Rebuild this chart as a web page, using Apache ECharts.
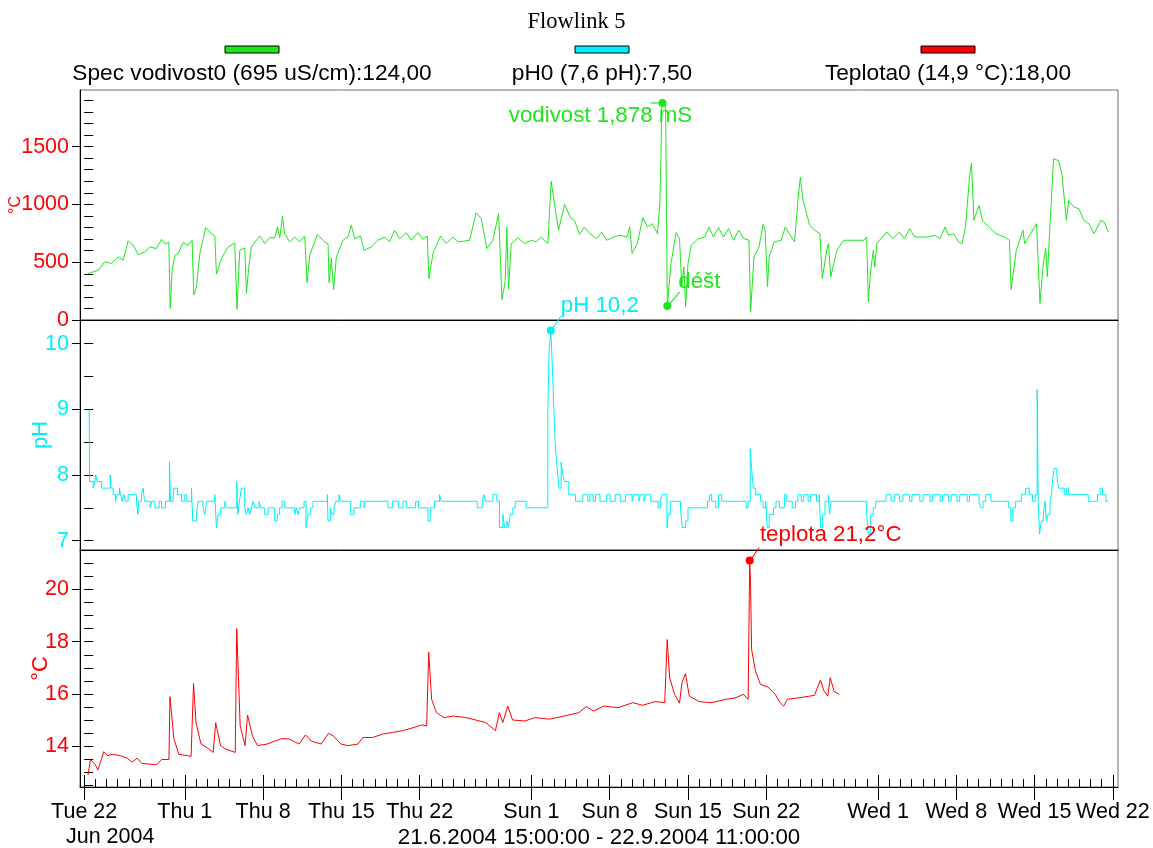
<!DOCTYPE html>
<html>
<head>
<meta charset="utf-8">
<title>Flowlink 5</title>
<script src="https://cdn.jsdelivr.net/npm/echarts@6/dist/echarts.min.js"></script>
<style>
html,body{margin:0;padding:0;background:#fff}
#show{width:1153px;height:848px}
</style>
</head>
<body>
<div id="show"></div>
<script>
// casy jsou ve dnech od 22.6.2004 00:00
var xMin = -0.375, xMax = 92.4583;   // 21.6.2004 15:00 - 22.9.2004 11:00

var condDays = [0.30,1.25,1.85,2.44,3.04,3.49,3.93,4.38,4.83,5.42,5.87,6.46,6.91,7.27,7.57,7.69,7.86,8.10,8.40,8.85,
    9.29,9.65,9.80,10.04,10.34,10.87,11.38,11.68,11.83,12.27,12.87,13.46,13.61,13.67,13.91,14.36,14.51,14.72,14.95,15.70,
    16.15,16.59,17.04,17.28,17.49,17.73,17.93,18.38,18.83,19.27,19.72,19.93,20.17,20.85,21.51,21.81,21.90,22.10,22.31,22.55,
    23.15,23.59,23.89,24.19,24.72,25.02,25.68,26.27,26.87,27.31,27.76,28.21,28.81,29.25,29.85,30.29,30.68,30.83,31.19,31.87,
    32.38,32.98,33.42,34.46,35.06,35.51,36.01,36.55,37.06,37.24,37.36,37.65,37.80,37.95,38.19,38.79,39.38,39.98,40.42,40.87,
    41.47,41.76,42.06,42.42,42.96,43.49,43.85,44.30,44.74,45.22,45.83,46.28,46.73,47.34,47.94,48.55,48.79,49.00,49.46,49.97,
    50.37,50.82,51.27,51.48,51.58,51.66,52.00,52.15,52.48,52.94,53.24,53.45,53.63,53.79,54.00,54.30,54.91,55.51,55.87,56.27,
    56.72,57.18,57.63,58.08,58.54,58.99,59.45,59.60,59.90,60.35,60.72,60.90,61.11,61.26,61.71,62.32,62.71,63.23,63.53,63.83,
    64.05,64.29,64.89,65.35,65.80,66.01,66.41,66.56,66.77,67.31,67.92,68.83,69.74,69.98,70.13,70.34,70.58,70.70,70.89,71.25,
    71.79,72.31,72.91,73.37,73.82,74.28,74.88,75.49,76.09,76.55,77.00,77.30,77.76,78.21,78.51,78.82,79.18,79.36,79.57,80.03,
    80.33,80.93,81.54,82.30,82.75,82.90,83.36,83.96,84.11,85.17,85.48,85.78,85.99,86.14,86.38,86.69,87.14,87.44,87.84,88.05,
    88.50,88.96,89.41,89.86,90.32,90.92,91.22,91.59];
var condVals = [400,431,503,489,546,517,684,647,566,589,632,618,698,655,675,101,420,560,575,670,
    647,690,216,287,575,799,747,727,397,532,632,666,666,92,603,624,230,459,632,727,
    661,713,710,805,710,899,747,675,718,675,727,322,560,741,675,661,322,532,264,546,
    690,718,819,704,727,603,632,690,718,675,776,704,756,690,756,698,727,359,575,727,
    661,718,675,690,928,877,618,690,920,489,178,331,805,267,661,710,661,690,675,718,
    661,1201,1006,776,1000,885,862,741,805,747,704,761,690,718,733,718,805,575,661,885,
    805,833,747,1006,1408,1878,1860,121,489,756,704,287,459,115,489,647,704,718,805,718,
    799,718,790,690,776,704,690,72,546,632,827,776,287,546,675,690,805,718,675,1034,
    1236,1034,819,776,747,359,603,661,374,603,690,690,690,718,158,431,603,459,661,704,
    761,704,761,704,790,718,718,718,733,704,805,733,747,675,661,805,1236,1356,862,991,
    862,805,747,718,690,264,603,776,661,833,144,489,618,374,833,1394,1379,1264,862,1034,
    977,963,862,833,747,862,848,761];

var phDays = [0.447,0.477,0.804,0.953,1.043,1.162,1.549,2.324,2.413,2.592,2.800,2.949,3.158,3.247,3.396,3.545,3.694,3.932,4.677,4.796,
    4.886,5.124,5.273,5.392,5.898,6.047,6.315,6.703,6.911,7.269,7.626,7.715,7.954,8.043,8.341,8.698,8.996,9.175,9.592,9.711,
    10.039,10.188,10.635,10.784,10.962,11.677,11.826,11.975,12.214,12.571,12.720,13.644,13.733,13.882,14.060,14.358,14.507,14.656,14.805,14.954,
    15.103,15.252,15.639,15.788,16.146,16.444,17.040,17.277,17.456,17.694,17.933,18.826,18.975,19.124,19.273,19.661,19.840,20.018,20.227,20.465,
    21.745,21.805,22.014,22.163,22.342,22.491,22.789,22.937,23.831,24.129,24.695,25.022,25.171,27.167,27.554,28.120,28.507,28.805,29.640,29.908,
    30.742,30.950,31.337,31.784,31.933,35.150,35.597,35.746,35.895,36.550,36.908,37.146,37.444,37.593,37.802,37.951,38.100,38.338,38.546,39.530,
    41.466,41.585,41.734,41.883,42.002,42.121,42.240,42.359,42.449,42.657,42.806,42.955,43.342,43.938,44.593,45.040,45.22,45.52,45.73,46.13,
    46.73,47.04,47.49,47.94,48.40,49.00,49.15,49.61,49.76,50.06,50.21,50.67,51.33,51.52,51.67,52.12,52.24,52.42,53.33,53.48,
    53.79,54.00,55.75,55.93,56.12,56.48,56.72,57.02,59.20,59.38,59.57,59.69,59.84,60.05,60.50,60.72,60.96,61.08,61.26,61.65,
    61.87,62.17,62.62,62.83,63.32,63.62,63.83,64.14,64.35,64.74,64.95,65.50,65.74,65.86,66.04,66.26,66.56,66.65,66.80,69.98,
    70.13,70.34,70.58,70.79,71.70,72.16,72.46,72.91,73.22,73.82,74.03,74.73,75.03,75.64,75.85,76.55,76.76,77.30,77.54,78.06,
    78.30,78.97,79.18,80.03,80.18,80.39,80.63,81.09,82.69,82.87,83.05,83.30,83.81,84.20,84.51,84.81,85.05,85.23,85.32,85.44,
    85.60,85.78,85.93,86.05,86.20,86.38,86.50,86.66,86.75,86.99,87.14,87.65,87.84,88.05,89.80,90.62,90.86,91.07,91.38,91.59];
var phVals = [9.0,7.9,7.8,7.9,8.0,7.9,7.8,8.0,7.8,7.7,7.6,7.7,7.8,7.7,7.6,7.7,7.6,7.7,7.6,7.4,
    7.6,7.7,7.8,7.6,7.5,7.6,7.5,7.6,7.5,7.6,8.2,7.6,7.7,7.8,7.7,7.6,7.7,7.6,7.8,7.3,
    7.4,7.6,7.5,7.4,7.6,7.7,7.2,7.4,7.5,7.6,7.5,7.9,7.4,7.6,7.8,7.5,7.4,7.5,7.4,7.5,
    7.6,7.5,7.6,7.5,7.4,7.5,7.3,7.4,7.5,7.6,7.5,7.4,7.5,7.4,7.5,7.6,7.2,7.4,7.5,7.6,
    7.7,7.3,7.5,7.4,7.5,7.6,7.7,7.6,7.4,7.5,7.6,7.5,7.6,7.5,7.6,7.5,7.6,7.5,7.6,7.5,
    7.3,7.5,7.6,7.7,7.6,7.5,7.6,7.7,7.6,7.7,7.6,7.2,7.4,7.2,7.3,7.2,7.4,7.5,7.6,7.5,
    9.0,9.9,10.2,9.6,9.0,8.5,8.2,8.0,7.8,8.2,8.0,7.9,7.7,7.6,7.7,7.6,7.7,7.6,7.7,7.6,
    7.7,7.6,7.7,7.6,7.7,7.6,7.7,7.6,7.7,7.6,7.7,7.6,7.5,7.6,7.7,7.2,7.4,7.6,7.5,7.2,
    7.3,7.5,7.6,7.7,7.6,7.5,7.7,7.6,7.5,7.6,8.4,8.1,7.8,7.7,7.6,7.5,7.6,7.2,7.4,7.5,
    7.6,7.5,7.7,7.6,7.5,7.6,7.7,7.6,7.7,7.6,7.7,7.6,7.7,7.2,7.4,7.6,7.7,7.4,7.6,7.4,
    7.1,7.4,7.5,7.6,7.7,7.6,7.7,7.6,7.7,7.6,7.7,7.6,7.7,7.6,7.7,7.6,7.7,7.6,7.7,7.6,
    7.7,7.6,7.7,7.6,7.5,7.6,7.7,7.6,7.5,7.3,7.5,7.6,7.7,7.8,7.7,7.6,7.7,9.3,7.6,7.1,
    7.3,7.4,7.6,7.3,7.4,7.6,7.7,8.0,8.1,8.0,7.8,7.7,7.8,7.7,7.6,7.7,7.8,7.7,7.6,7.6];

var tempDays = [0.34,0.56,1.00,1.22,1.53,1.75,2.10,2.54,3.20,3.85,4.29,4.73,5.17,6.49,6.93,7.58,7.67,7.80,8.02,8.46,
    9.56,9.78,10.00,10.44,11.10,11.54,11.76,12.20,12.63,13.51,13.64,13.95,14.39,14.61,15.05,15.49,16.37,17.02,17.68,18.34,
    19.22,19.79,20.32,21.19,21.85,22.29,22.95,23.61,24.49,24.92,25.80,26.68,27.56,28.44,29.31,30.19,30.63,30.81,31.07,31.51,
    32.17,33.05,34.14,35.02,35.90,36.78,37.13,37.44,37.88,38.31,39.41,40.29,41.61,42.92,44.24,44.90,45.56,46.43,47.75,49.07,
    49.95,51.04,51.92,52.14,52.36,52.80,53.24,53.46,53.77,54.12,55.00,56.09,57.41,58.29,58.95,59.38,59.52,59.60,59.69,60.04,
    60.48,61.14,61.80,62.24,62.55,62.90,63.99,64.87,65.31,65.84,66.19,66.50,66.72,67.07,67.51];
var tempVals = [12.9,13.5,13.3,13.1,13.5,13.8,13.65,13.7,13.65,13.55,13.4,13.55,13.35,13.3,13.5,13.5,15.9,15.3,14.3,13.7,
    13.62,16.4,14.9,14.1,13.92,13.77,14.9,14.03,13.9,13.77,18.5,14.78,14.03,15.2,14.4,14.03,14.09,14.2,14.3,14.28,
    14.09,14.44,14.2,14.09,14.5,14.4,14.09,14.03,14.09,14.34,14.34,14.47,14.53,14.6,14.7,14.82,14.78,17.6,15.8,15.29,
    15.1,15.16,15.1,15.01,14.91,14.6,15.29,14.91,15.54,15.01,14.97,15.1,15.04,15.16,15.29,15.52,15.35,15.54,15.48,15.67,
    15.57,15.71,15.67,18.08,16.62,15.99,15.65,16.43,16.78,15.92,15.71,15.67,15.8,15.86,15.99,15.8,21.1,20.1,17.7,16.87,
    16.37,16.27,15.99,15.67,15.54,15.8,15.86,15.92,15.95,16.53,16.1,15.92,16.62,16.1,15.99];

// popisky na ose x
var xTickDays = [0, 9, 16, 23, 30, 40, 47, 54, 61, 71, 78, 85, 92];
var xTickLabels = ['Tue 22', 'Thu 1', 'Thu 8', 'Thu 15', 'Thu 22', 'Sun 1', 'Sun 8', 'Sun 15', 'Sun 22', 'Wed 1', 'Wed 8', 'Wed 15', 'Wed 22'];
var condTicks = [0, 500, 1000, 1500];
var phTicks = [7, 8, 9, 10];
var tempTicks = [14, 16, 18, 20];

var legendNames = ['Spec vodivost0 (695 uS/cm):124,00', 'pH0 (7,6 pH):7,50', 'Teplota0 (14,9 °C):18,00'];

// poznamky [den, hodnota]
var condPeak = [51.72, 1878];
var rainPoint = [52.15, 121];
var phPeak = [41.73, 10.2];
var tempPeak = [59.52, 21.1];

var green = '#1ee61e', cyan = '#00eef8', red = '#ff0000';
var font = "'Liberation Sans', Arial, sans-serif";

function pairs(xs, ys) {
    var out = [];
    for (var i = 0; i < xs.length; i++) out.push([xs[i], ys[i]]);
    return out;
}
function range(a, b, step) {
    var out = [];
    for (var v = a; v <= b + 1e-9; v += step) out.push(Math.round(v * 100) / 100);
    return out;
}

var myChart = echarts.init(document.getElementById('show'));

var grids = [
    {left: 80, right: 35, top: 90, height: 230},
    {left: 80, right: 35, top: 320, height: 230},
    {left: 80, right: 35, top: 550, height: 237}
];
grids.forEach(function (g) {
    g.show = true; g.borderColor = '#6e6e6e'; g.borderWidth = 1;
    g.containLabel = false; g.outerBoundsMode = 'none';
});

function plainX(gi) {
    return {
        type: 'value', gridIndex: gi, min: xMin, max: xMax, position: 'bottom',
        axisLine: {show: true, onZero: false, lineStyle: {color: '#000', width: 1}},
        axisTick: {show: false}, axisLabel: {show: false}, splitLine: {show: false}
    };
}
var xBottom = plainX(2);
xBottom.axisTick = {show: true, customValues: xTickDays, length: 13, lineStyle: {color: '#000'}};
xBottom.axisLabel = {
    show: true, customValues: xTickDays, margin: 13, color: '#000', fontSize: 21.5, fontFamily: font,
    formatter: function (v) {
        var i = xTickDays.indexOf(Math.round(v));
        if (i < 0) return '';
        if (i === 0) return '{a|' + xTickLabels[i] + '}\n{b|Jun 2004}';
        return '{a|' + xTickLabels[i] + '}';
    },
    rich: {
        a: {fontSize: 21.5, fontFamily: font, color: '#000', lineHeight: 25, align: 'center'},
        b: {fontSize: 21.5, fontFamily: font, color: '#000', lineHeight: 25, align: 'center', padding: [0, 0, 0, 52]}
    }
};
xBottom.name = '21.6.2004 15:00:00 - 22.9.2004 11:00:00';
xBottom.nameLocation = 'middle';
xBottom.nameGap = 40;
xBottom.nameMoveOverlap = false;
xBottom.nameTextStyle = {color: '#000', fontSize: 22.3, fontFamily: font};

var xMinor = plainX(2);
xMinor.axisLine = {show: false};
xMinor.axisTick = {show: true, inside: true, customValues: range(0, 92, 1), length: 8, lineStyle: {color: '#000'}};
var xMajorIn = plainX(2);
xMajorIn.axisLine = {show: false};
xMajorIn.axisTick = {show: true, inside: true, customValues: xTickDays, length: 12, lineStyle: {color: '#000'}};

function yMain(gi, min, max, ticks, color, name, nameSize, nameGap) {
    return {
        type: 'value', gridIndex: gi, min: min, max: max, position: 'left',
        axisLine: {show: true, onZero: false, lineStyle: {color: '#000', width: 1}},
        axisTick: {show: true, customValues: ticks, length: 8, lineStyle: {color: '#000'}},
        axisLabel: {show: true, customValues: ticks, margin: 11, color: color, fontSize: 21.5, fontFamily: font,
            formatter: function (v) { return String(v); }},
        splitLine: {show: false},
        name: name, nameLocation: 'middle', nameGap: nameGap, nameMoveOverlap: false,
        nameTextStyle: {color: color, fontSize: nameSize, fontFamily: font}
    };
}
function yInner(gi, min, max, ticks) {
    return {
        type: 'value', gridIndex: gi, min: min, max: max, position: 'left',
        axisLine: {show: false},
        axisTick: {show: true, inside: true, customValues: ticks, length: 9, lineStyle: {color: '#000'}},
        axisLabel: {show: false}, splitLine: {show: false}
    };
}

function dot(coord, color, text, off) {
    return {
        coord: coord, symbol: 'circle', symbolSize: 8, itemStyle: {color: color},
        label: {show: !!text, formatter: text || '', position: 'inside', offset: off,
            color: color, fontSize: 22.3, fontFamily: font}
    };
}
function leader(coord, color, size, off) {
    return {
        coord: coord, symbol: 'path://M0,10L1.2,10L11,0L9.8,0Z', symbolSize: size, symbolOffset: off,
        itemStyle: {color: color}, label: {show: false}
    };
}

var option = {
    animation: false,
    backgroundColor: '#fff',
    title: {
        text: 'Flowlink 5', left: 'center', top: 6,
        textStyle: {fontFamily: "'Liberation Serif', 'Times New Roman', serif", fontSize: 22.5, fontWeight: 'normal', color: '#000'}
    },
    grid: grids,
    xAxis: [plainX(0), plainX(1), xBottom, xMinor, xMajorIn],
    yAxis: [
        yMain(0, 0, 1990, condTicks, red, '°C', 16, 56),
        yInner(0, 0, 1990, range(0, 1900, 100)),
        yMain(1, 6.858, 10.36, phTicks, cyan, 'pH', 22, 28),
        yInner(1, 6.858, 10.36, range(7, 10, 0.5)),
        yMain(2, 12.45, 21.5, tempTicks, red, '°C', 22, 28),
        yInner(2, 12.45, 21.5, range(12.5, 21, 0.5))
    ],
    series: [
        {
            name: legendNames[0], type: 'line', xAxisIndex: 0, yAxisIndex: 0,
            data: pairs(condDays, condVals), showSymbol: false, silent: true,
            lineStyle: {color: green, width: 1}, itemStyle: {color: green},
            markPoint: {
                silent: true,
                data: [
                    dot(condPeak, green, 'vodivost 1,878 mS', [-62, 13]),
                    {coord: condPeak, symbol: 'rect', symbolSize: [12, 1.2], symbolOffset: [-6, 0], itemStyle: {color: green}, label: {show: false}},
                    dot(rainPoint, green, 'déšt', [32, -24]),
                    leader(rainPoint, green, [13, 14], [6.5, -7])
                ]
            }
        },
        {
            name: legendNames[1], type: 'line', xAxisIndex: 1, yAxisIndex: 2, step: 'end',
            data: pairs(phDays, phVals), showSymbol: false, silent: true,
            lineStyle: {color: cyan, width: 1}, itemStyle: {color: cyan},
            markPoint: {
                silent: true,
                data: [
                    dot(phPeak, cyan, 'pH 10,2', [49, -25]),
                    leader(phPeak, cyan, [11, 15], [5.5, -7.5])
                ]
            }
        },
        {
            name: legendNames[2], type: 'line', xAxisIndex: 2, yAxisIndex: 4,
            data: pairs(tempDays, tempVals), showSymbol: false, silent: true,
            lineStyle: {color: red, width: 1}, itemStyle: {color: red},
            markPoint: {
                silent: true,
                data: [
                    dot(tempPeak, red, 'teplota 21,2°C', [81, -26]),
                    leader(tempPeak, red, [10, 13], [5, -6.5])
                ]
            }
        }
    ],
    graphic: []
};

// legenda nahore
var legendX = [252, 602, 948];
var legendColors = [green, cyan, red];
for (var i = 0; i < legendNames.length; i++) {
    option.graphic.push({
        type: 'rect', shape: {x: legendX[i] - 27, y: 46, width: 54, height: 7},
        style: {fill: legendColors[i], stroke: '#000', lineWidth: 1}
    });
    option.graphic.push({
        type: 'text', x: legendX[i], y: 74,
        style: {text: legendNames[i], fill: '#000', font: "22.7px 'Liberation Sans', Arial, sans-serif", align: 'center', verticalAlign: 'middle'}
    });
}

myChart.setOption(option);
</script>
</body>
</html>
